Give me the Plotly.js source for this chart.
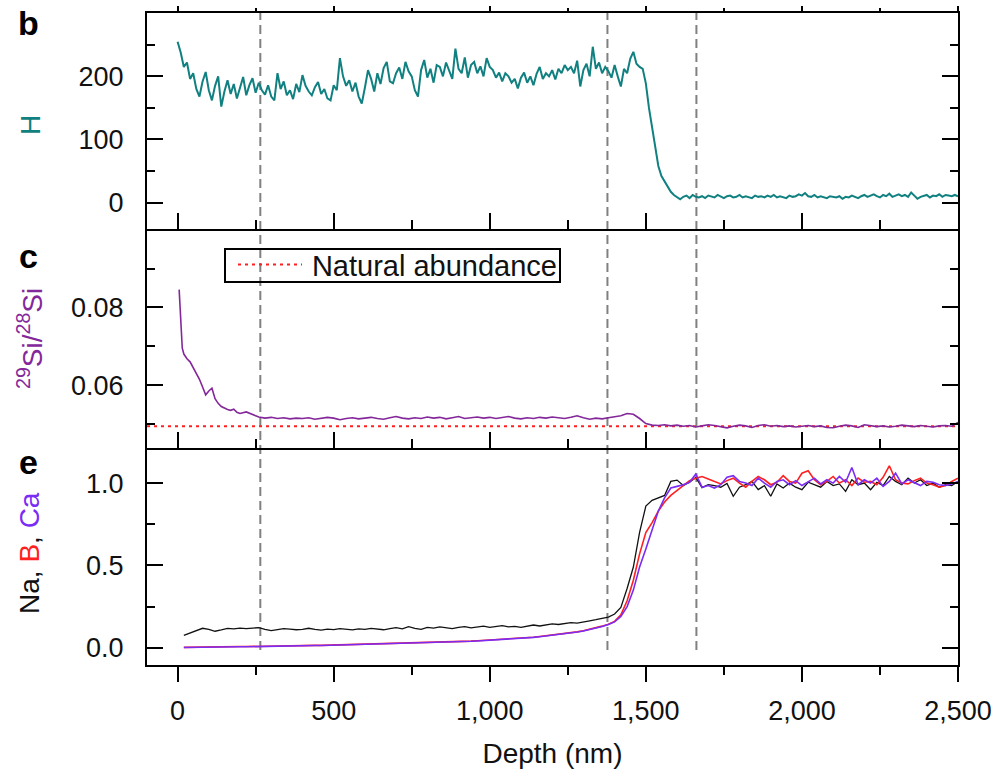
<!DOCTYPE html>
<html>
<head>
<meta charset="utf-8">
<script src="https://cdn.plot.ly/plotly-3.0.1.min.js"></script>
<style>html,body{margin:0;padding:0;background:#fff;}#chart{width:1002px;height:777px;}</style>
</head>
<body>
<div id="chart"></div>
<script>
// ---------- Panel b: H ----------
const hDepth = [
0,10,20,30,40,50,60,70,80,90,
100,110,120,130,140,150,160,170,180,190,
200,210,220,230,240,250,260,270,280,290,
300,310,320,330,340,350,360,370,380,390,
400,410,420,430,440,450,460,470,480,490,
500,510,520,530,540,550,560,570,580,590,
600,610,620,630,640,650,660,670,680,690,
700,710,720,730,740,750,760,770,780,790,
800,810,820,830,840,850,860,870,880,890,
900,910,920,930,940,950,960,970,980,990,
1000,1010,1020,1030,1040,1050,1060,1070,1080,1090,
1100,1110,1120,1130,1140,1150,1160,1170,1180,1190,
1200,1210,1220,1230,1240,1250,1260,1270,1280,1290,
1300,1310,1320,1330,1340,1350,1360,1370,1380,1390,
1400,1410,1420,1430,1440,1450,1460,1470,1480,1490,
1500,1510,1520,1530,1540,1550,1560,1570,1580,1590,
1600,1610,1620,1630,1640,1650,1660,1670,1680,1690,
1700,1710,1720,1730,1740,1750,1760,1770,1780,1790,
1800,1810,1820,1830,1840,1850,1860,1870,1880,1890,
1900,1910,1920,1930,1940,1950,1960,1970,1980,1990,
2000,2010,2020,2030,2040,2050,2060,2070,2080,2090,
2100,2110,2120,2130,2140,2150,2160,2170,2180,2190,
2200,2210,2220,2230,2240,2250,2260,2270,2280,2290,
2300,2310,2320,2330,2340,2350,2360,2370,2380,2390,
2400,2410,2420,2430,2440,2450,2460,2470,2480,2490,
2500];
const hValues = [
255,238,215,222,196,205,180,168,192,207,
178,162,185,200,152,176,194,172,188,165,
182,199,170,186,197,174,190,178,171,186,
168,162,205,180,192,170,178,164,188,175,
202,185,176,170,183,191,172,180,165,162,
186,178,229,200,185,194,176,190,168,157,
182,210,196,176,205,188,213,223,192,189,
205,214,196,223,208,200,178,168,210,226,
198,212,190,218,215,200,222,208,196,244,
212,205,230,198,218,223,205,216,200,229,
215,210,198,206,192,205,200,190,196,181,
198,206,190,200,186,204,215,196,205,200,
210,195,212,205,218,210,215,205,225,184,
210,220,200,247,212,222,205,215,208,198,
218,200,184,212,205,228,239,220,215,212,
189,150,118,83,58,42,33,25,17,12,
8,5,9,11,7,12,9,8,10,7,
11,9,8,12,9,7,10,11,8,9,
12,8,10,9,7,11,9,10,8,11,
9,12,8,10,9,7,11,9,10,13,
11,15,10,9,12,8,10,9,7,10,
9,8,10,6,9,8,11,9,7,10,
12,9,11,13,10,8,12,10,14,9,
11,13,10,12,9,16,11,6,9,10,
12,8,11,10,13,9,12,11,10,12,
10];

// ---------- Panel c: 29Si/28Si ----------
const siDepth = [
5,10,15,20,30,40,50,60,70,80,90,100,110,120,130,140,150,160,170,180,190,200,220,240,260,
280,300,320,340,360,380,400,420,440,460,480,500,520,540,560,580,600,620,640,660,
680,700,720,740,760,780,800,820,840,860,880,900,920,940,960,980,1000,1020,1040,1060,
1080,1100,1120,1140,1160,1180,1200,1220,1240,1260,1280,1300,1320,1340,1360,1380,1400,
1420,1440,1460,1480,1500,1520,1540,1560,1580,1600,1620,1640,1660,1680,1700,1720,1740,1760,1780,1800,
1820,1840,1860,1880,1900,1920,1940,1960,1980,2000,2020,2040,2060,2080,2100,2120,2140,2160,2180,2200,
2220,2240,2260,2280,2300,2320,2340,2360,2380,2400,2420,2440,2460,2480,2500];
const siRatio = [
0.0846,0.0760,0.0695,0.0680,0.0668,0.0660,0.0645,0.0630,0.0615,0.0595,0.0575,0.0585,0.0592,0.0565,0.0553,0.0545,0.0540,0.0537,0.0535,0.0538,0.0530,0.0527,0.0531,0.0525,0.0518,
0.0515,0.0517,0.0514,0.0516,0.0513,0.0515,0.0514,0.0516,0.0512,0.0514,0.0517,0.0515,0.0511,0.0514,0.0516,0.0513,0.0515,0.0517,0.0514,0.0512,
0.0516,0.0519,0.0515,0.0513,0.0516,0.0514,0.0518,0.0515,0.0517,0.0513,0.0516,0.0519,0.0514,0.0516,0.0518,0.0515,0.0517,0.0514,0.0516,0.0519,
0.0515,0.0513,0.0516,0.0514,0.0517,0.0515,0.0518,0.0516,0.0514,0.0517,0.0521,0.0516,0.0512,0.0515,0.0513,0.0516,0.0518,
0.0521,0.0527,0.0525,0.0514,0.0501,0.0497,0.0496,0.0498,0.0495,0.0497,0.0494,0.0496,0.0492,0.0495,0.0498,0.0496,0.0493,0.0490,0.0494,0.0497,
0.0495,0.0491,0.0496,0.0498,0.0494,0.0496,0.0493,0.0495,0.0492,0.0494,0.0496,0.0493,0.0495,0.0491,0.0490,0.0494,0.0497,0.0495,0.0491,0.0498,
0.0496,0.0493,0.0495,0.0492,0.0494,0.0497,0.0495,0.0493,0.0496,0.0494,0.0492,0.0495,0.0496,0.0494,0.0504];
const naturalAbundance = 0.0494;
const legendLabel = 'Natural abundance';

// ---------- Panel e: Na, B, Ca ----------
const eDepth = [
20,40,60,80,100,120,140,160,180,200,
220,240,260,280,300,320,340,360,380,400,
420,440,460,480,500,520,540,560,580,600,
620,640,660,680,700,720,740,760,780,800,
820,840,860,880,900,920,940,960,980,1000,
1020,1040,1060,1080,1100,1120,1140,1160,1180,1200,
1220,1240,1260,1280,1300,1320,1340,1360,1380,1400,
1420,1440,1460,1480,1500,1520,1540,1560,1580,1600,
1620,1640,1660,1680,1700,1720,1740,1760,1780,1800,
1820,1840,1860,1880,1900,1920,1940,1960,1980,2000,
2020,2040,2060,2080,2100,2120,2140,2160,2180,2200,
2220,2240,2260,2280,2300,2320,2340,2360,2380,2400,
2420,2440,2460,2480,2500];
const naValues = [
0.075,0.088,0.105,0.118,0.112,0.100,0.108,0.117,0.114,0.119,
0.116,0.121,0.122,0.112,0.104,0.110,0.116,0.113,0.109,0.112,
0.118,0.111,0.107,0.113,0.110,0.116,0.112,0.108,0.115,0.111,
0.117,0.113,0.109,0.116,0.122,0.114,0.128,0.118,0.112,0.124,
0.119,0.126,0.121,0.116,0.124,0.128,0.120,0.126,0.131,0.124,
0.129,0.134,0.127,0.130,0.124,0.131,0.138,0.132,0.140,0.145,
0.141,0.147,0.152,0.149,0.158,0.163,0.170,0.178,0.186,0.205,
0.245,0.360,0.490,0.700,0.860,0.895,0.912,0.925,1.010,1.018,
0.985,1.005,1.034,0.972,0.990,0.985,0.975,0.998,0.920,0.975,
0.990,1.010,0.960,0.985,0.920,0.995,0.970,1.000,0.975,0.960,
1.005,0.990,0.975,1.010,0.985,0.995,0.950,1.020,0.990,1.000,
0.960,1.005,0.985,1.040,1.010,0.990,1.030,1.000,1.020,0.985,
1.000,0.975,0.990,0.985,1.010];
const bValues = [
0.002,0.003,0.003,0.004,0.004,0.005,0.005,0.006,0.006,0.007,
0.007,0.008,0.008,0.009,0.010,0.010,0.011,0.011,0.012,0.013,
0.013,0.014,0.014,0.015,0.016,0.016,0.017,0.018,0.019,0.020,
0.020,0.021,0.022,0.023,0.024,0.025,0.026,0.027,0.028,0.030,
0.031,0.032,0.034,0.035,0.037,0.038,0.040,0.042,0.044,0.046,
0.048,0.050,0.053,0.055,0.058,0.061,0.064,0.068,0.072,0.076,
0.080,0.085,0.090,0.096,0.103,0.111,0.120,0.131,0.143,0.160,
0.200,0.285,0.410,0.570,0.700,0.760,0.830,0.885,0.925,0.955,
0.990,1.015,1.030,1.040,1.025,1.010,0.995,1.015,1.030,1.000,
0.975,1.010,1.040,1.020,0.990,1.005,1.045,1.010,1.000,1.060,
1.075,1.020,0.990,1.010,1.040,1.000,1.020,0.985,1.030,1.005,
1.010,0.990,1.035,1.105,1.020,1.000,0.995,1.015,1.030,1.000,
0.990,0.975,0.985,1.010,1.030];
const caValues = [
0.001,0.002,0.002,0.003,0.003,0.004,0.004,0.005,0.005,0.006,
0.006,0.007,0.007,0.008,0.009,0.009,0.010,0.010,0.011,0.012,
0.012,0.013,0.013,0.014,0.015,0.015,0.016,0.017,0.018,0.019,
0.019,0.020,0.021,0.022,0.023,0.024,0.025,0.026,0.027,0.029,
0.030,0.031,0.033,0.034,0.036,0.037,0.039,0.041,0.043,0.045,
0.047,0.049,0.052,0.054,0.057,0.060,0.063,0.067,0.071,0.075,
0.079,0.084,0.089,0.095,0.102,0.110,0.119,0.129,0.141,0.157,
0.190,0.250,0.350,0.490,0.600,0.720,0.830,0.910,0.970,0.980,
0.990,1.005,1.055,0.975,0.985,0.970,0.990,1.035,1.045,1.010,
1.000,0.985,1.030,1.000,0.975,1.010,1.020,0.990,1.015,0.985,
1.010,1.030,0.995,1.020,1.000,1.040,1.005,1.095,0.990,1.020,
1.000,1.030,0.980,1.010,1.060,0.995,1.020,1.000,0.985,1.010,
1.005,0.990,0.985,0.995,1.010];

// ---------- axes / guides ----------
const depthRange = [-98, 2500];
const depthTicks = [0, 500, 1000, 1500, 2000, 2500];
const depthMinor = [250, 750, 1250, 1750, 2250];
const guideDepths = [265, 1377, 1662];

const C_TEAL = '#118080';
const C_PURPLE = '#84279a';
const C_RED = '#ff2020';
const C_VIOLET = '#7a2cf5';
const FONT = 'Liberation Sans, Arial, sans-serif';

const traces = [
  {x: hDepth, y: hValues, xaxis: 'x', yaxis: 'y', mode: 'lines',
   line: {color: C_TEAL, width: 2}, showlegend: false, hoverinfo: 'skip'},
  {x: [], y: [], xaxis: 'x4', yaxis: 'y', mode: 'lines', showlegend: false, hoverinfo: 'skip'},
  {x: depthRange, y: [naturalAbundance, naturalAbundance], xaxis: 'x2', yaxis: 'y2', mode: 'lines',
   name: legendLabel, line: {color: C_RED, width: 2, dash: '3px,4px'}, showlegend: false, hoverinfo: 'skip'},
  {x: siDepth, y: siRatio, xaxis: 'x2', yaxis: 'y2', mode: 'lines',
   line: {color: C_PURPLE, width: 1.6}, showlegend: false, hoverinfo: 'skip'},
  {x: eDepth, y: naValues, xaxis: 'x3', yaxis: 'y3', mode: 'lines',
   line: {color: '#111111', width: 1.3}, showlegend: false, hoverinfo: 'skip'},
  {x: eDepth, y: bValues, xaxis: 'x3', yaxis: 'y3', mode: 'lines',
   line: {color: C_RED, width: 1.6}, showlegend: false, hoverinfo: 'skip'},
  {x: eDepth, y: caValues, xaxis: 'x3', yaxis: 'y3', mode: 'lines',
   line: {color: C_VIOLET, width: 1.6}, showlegend: false, hoverinfo: 'skip'}
];

const tickFont = {family: FONT, size: 27, color: '#111'};

function xAx(anchor, inside, labels, mirror) {
  return {
    domain: [0, 1], anchor: anchor, range: depthRange, autorange: false,
    showline: true, linecolor: '#000', linewidth: 2, mirror: mirror,
    showgrid: false, zeroline: false,
    tickvals: depthTicks, ticks: inside ? 'inside' : 'outside',
    ticklen: inside ? 16 : 15, tickwidth: 2, tickcolor: '#000',
    minor: {tickvals: depthMinor, ticks: inside ? 'inside' : 'outside', ticklen: inside ? 9 : 8, tickwidth: 2, tickcolor: '#000'},
    showticklabels: labels, tickformat: ',', tickfont: tickFont, ticklabelstandoff: 6
  };
}
function yAx(domain, anchor, range, tv, tt, minorv) {
  return {
    domain: domain, anchor: anchor, range: range, autorange: false,
    showline: true, linecolor: '#000', linewidth: 2, mirror: 'ticks',
    showgrid: false, zeroline: false,
    tickvals: tv, ticktext: tt, ticks: 'inside', ticklen: 16, tickwidth: 2, tickcolor: '#000',
    minor: {tickvals: minorv, ticks: 'inside', ticklen: 8, tickwidth: 2, tickcolor: '#000'},
    tickfont: tickFont, ticklabelstandoff: 16
  };
}

const xaxis3 = xAx('y3', false, true, false);
xaxis3.title = {text: 'Depth (nm)', font: {family: FONT, size: 28, color: '#111'}, standoff: 18};

const W = 811, H0 = 665, PH = 652, L = 147;
const px = v => (v - L) / W;
const py = v => (H0 - v) / PH;

const shapes = guideDepths.map(d => ({
  type: 'line', xref: 'x', yref: 'paper', x0: d, x1: d, y0: 0.023, y1: 1.008,
  line: {color: '#808080', width: 2, dash: '9px,5px'}, layer: 'below'
}));
// legend sample (red dotted) inside the legend frame
shapes.push({type: 'line', xref: 'paper', yref: 'paper', x0: px(238), x1: px(302), y0: py(264.5), y1: py(264.5),
  line: {color: C_RED, width: 2, dash: '3px,4px'}, layer: 'above'});

const annFont = (c, s) => ({family: FONT, size: s, color: c});
const annotations = [
  {text: '<b>b</b>', xref: 'paper', yref: 'paper', x: -0.1467, y: 0.985, showarrow: false, font: annFont('#000', 34), xanchor: 'center', yanchor: 'middle'},
  {text: '<b>c</b>', xref: 'paper', yref: 'paper', x: -0.1467, y: 0.628, showarrow: false, font: annFont('#000', 34), xanchor: 'center', yanchor: 'middle'},
  {text: '<b>e</b>', xref: 'paper', yref: 'paper', x: -0.1455, y: 0.312, showarrow: false, font: annFont('#000', 34), xanchor: 'center', yanchor: 'middle'},
  {text: 'H', xref: 'paper', yref: 'paper', x: -0.1443, y: 0.828, textangle: -90, showarrow: false, font: annFont(C_TEAL, 28), xanchor: 'center', yanchor: 'middle'},
  {text: '<sup>29</sup>Si/<sup>28</sup>Si', xref: 'paper', yref: 'paper', x: -0.1443, y: 0.5015, textangle: -90, showarrow: false, font: annFont(C_PURPLE, 28), xanchor: 'center', yanchor: 'middle'},
  {text: 'Na, <span style="color:' + C_RED + '">B</span>, <span style="color:' + C_VIOLET + '">Ca</span>', xref: 'paper', yref: 'paper', x: -0.1443, y: 0.1718, textangle: -90, showarrow: false, font: annFont('#111', 28), xanchor: 'center', yanchor: 'middle'},
  // legend frame + label
  {text: legendLabel, xref: 'paper', yref: 'paper', x: px(224), y: py(248), xanchor: 'left', yanchor: 'top',
   showarrow: false, font: annFont('#111', 29), align: 'right', width: 329, height: 27,
   bordercolor: '#000', borderwidth: 2, borderpad: 2, bgcolor: 'rgba(0,0,0,0)'}
];

const layout = {
  width: 1002, height: 777,
  margin: {l: 147, r: 44, t: 13, b: 112, pad: 0},
  paper_bgcolor: '#fff', plot_bgcolor: '#fff',
  font: {family: FONT, size: 27, color: '#111'},
  separators: '.,',
  showlegend: false,
  xaxis: xAx('y', true, false, true),
  xaxis4: Object.assign(xAx('y', false, false, false), {overlaying: 'x', side: 'top', showline: false, ticklen: 6,
           minor: {tickvals: depthMinor, ticks: 'outside', ticklen: 4, tickwidth: 2, tickcolor: '#000'}}),
  xaxis2: xAx('y2', true, false, false),
  xaxis3: xaxis3,
  yaxis: yAx([0.6687, 1], 'x', [-42, 300.5], [0, 100, 200], ['0', '100', '200'], [50, 150, 250]),
  yaxis2: yAx([0.3328, 0.6687], 'x2', [0.0438, 0.1002], [0.06, 0.08], ['0.06', '0.08'], [0.05, 0.07, 0.09]),
  yaxis3: yAx([0, 0.3328], 'x3', [-0.105, 1.213], [0, 0.5, 1], ['0.0', '0.5', '1.0'], [0.25, 0.75]),
  shapes: shapes,
  annotations: annotations
};

Plotly.newPlot('chart', traces, layout, {displayModeBar: false, staticPlot: true});
</script>
</body>
</html>
